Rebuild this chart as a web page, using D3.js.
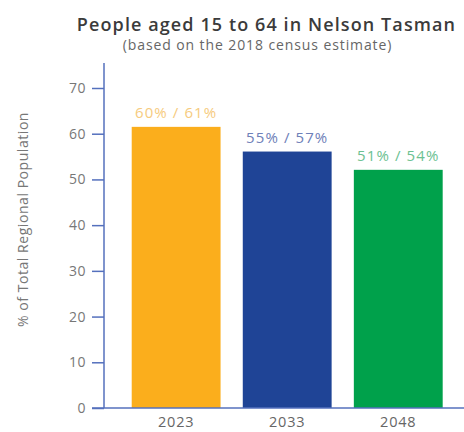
<!DOCTYPE html>
<html><head><meta charset="utf-8">
<script src="https://cdn.jsdelivr.net/npm/d3@7"></script>
<style>body{margin:0;background:#fff;} svg{display:block;}</style>
</head><body>
<script>
const categories = ["2023", "2033", "2048"];
const values = [61.5, 56.1, 52.1];
const barLabels = ["60% / 61%", "55% / 57%", "51% / 54%"];
const barColors = ["#FBAE1C", "#1F4496", "#00A14B"];
const labelColors = ["#F6CB7E", "#6E80B8", "#6CC192"];
const yTicks = [0, 10, 20, 30, 40, 50, 60, 70];

const W = 464, H = 432;
const svg = d3.select("body").append("svg").attr("width", W).attr("height", H);
const font = "'Open Sans', sans-serif";

const y = d3.scaleLinear().domain([0, 70]).range([408, 88]);
const x = d3.scaleBand().domain(categories).range([109.5, 464.9]).paddingInner(0.2).paddingOuter(0.2);

// title
svg.append("text").attr("x", 266.5).attr("y", 31).attr("text-anchor", "middle")
  .attr("font-family", font).attr("font-weight", 600).attr("font-size", 18)
  .attr("letter-spacing", 1.1)
  .attr("fill", "#3b3b3b").text("People aged 15 to 64 in Nelson Tasman");
svg.append("text").attr("x", 257.5).attr("y", 50).attr("text-anchor", "middle")
  .attr("font-family", font).attr("font-size", 14).attr("letter-spacing", 0.9)
  .attr("fill", "#666").text("(based on the 2018 census estimate)");

// bars
svg.selectAll("rect.bar").data(values).enter().append("rect").attr("class", "bar")
  .attr("x", (d, i) => x(categories[i])).attr("width", x.bandwidth())
  .attr("y", d => y(d)).attr("height", d => y(0) - y(d))
  .attr("fill", (d, i) => barColors[i]);

// bar labels
svg.selectAll("text.bl").data(values).enter().append("text").attr("class", "bl")
  .attr("x", (d, i) => x(categories[i]) + x.bandwidth() / 2)
  .attr("y", d => y(d) - 9).attr("text-anchor", "middle")
  .attr("font-family", font).attr("font-size", 15).attr("letter-spacing", 1.1)
  .attr("fill", (d, i) => labelColors[i]).text((d, i) => barLabels[i]);

// y axis
const yAxis = svg.append("g").attr("transform", "translate(104,0)")
  .call(d3.axisLeft(y).tickValues(yTicks).tickSize(12).tickPadding(6));
yAxis.select(".domain").remove();
yAxis.selectAll(".tick line").attr("stroke", "#5470bd").attr("stroke-width", 1.5);
yAxis.selectAll(".tick text").attr("font-family", font).attr("font-size", 14)
  .attr("letter-spacing", 0.5).attr("fill", "#777");
svg.append("line").attr("x1", 104).attr("x2", 104).attr("y1", 63).attr("y2", 408)
  .attr("stroke", "#5470bd").attr("stroke-width", 1.5);

// x axis
const xAxis = svg.append("g").attr("transform", "translate(0,408)")
  .call(d3.axisBottom(x).tickSize(0).tickPadding(0));
xAxis.select(".domain").remove();
xAxis.selectAll(".tick text").attr("dy", null).attr("y", 19)
  .attr("font-family", font).attr("font-size", 14.5).attr("letter-spacing", 0.8).attr("fill", "#666");
svg.append("line").attr("x1", 92).attr("x2", 464).attr("y1", 408).attr("y2", 408)
  .attr("stroke", "#5470bd").attr("stroke-width", 1.5);

// y label
svg.append("text").attr("transform", "translate(28,219.5) rotate(-90)")
  .attr("text-anchor", "middle").attr("font-family", font).attr("font-size", 14)
  .attr("letter-spacing", 0.55)
  .attr("fill", "#777").text("% of Total Regional Population");
</script>
</body></html>
